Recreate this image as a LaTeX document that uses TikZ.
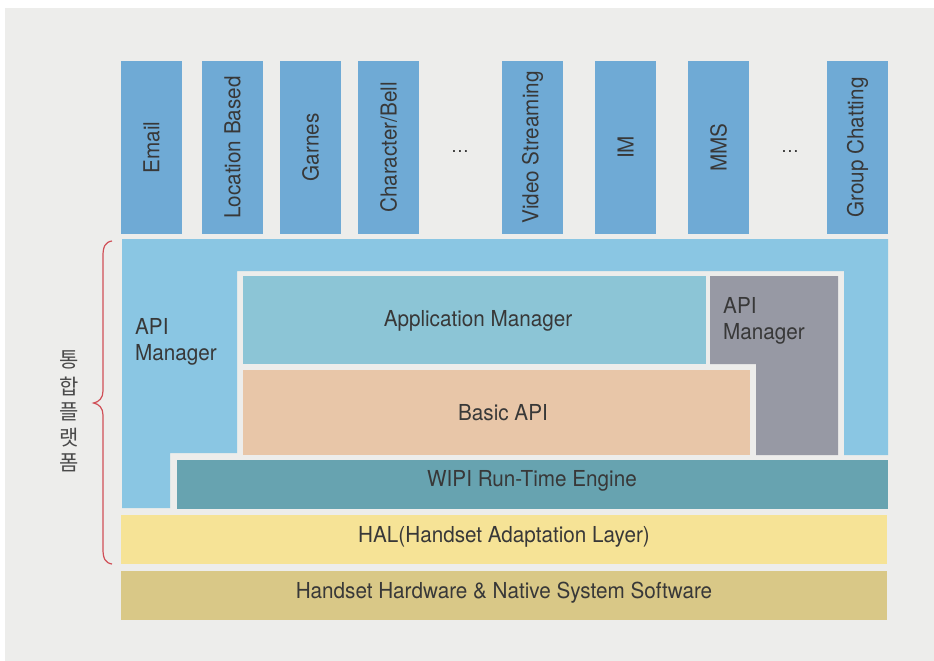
\documentclass[tikz,border=0pt]{standalone}
\usepackage{fontspec}
\setmainfont[FakeStretch=0.94]{TeX Gyre Heros}
\newfontfamily\kfont{Noto Sans CJK KR}
\definecolor{bg}{HTML}{EDEDEB}
\definecolor{appblue}{HTML}{6FAAD5}
\definecolor{lblue}{HTML}{8AC6E3}
\definecolor{amgr}{HTML}{8CC5D6}
\definecolor{basic}{HTML}{E8C6A8}
\definecolor{gapi}{HTML}{9799A4}
\definecolor{wipi}{HTML}{67A3B0}
\definecolor{hal}{HTML}{F6E396}
\definecolor{hw}{HTML}{D9C887}
\definecolor{txt}{HTML}{383838}
\definecolor{ktxt}{HTML}{4A4A4A}
\definecolor{bracered}{HTML}{D04F57}
\begin{document}
\begin{tikzpicture}[x=1pt,y=-1pt,
  lbl/.style={font=\fontsize{22}{26}\selectfont, text=txt, inner sep=0pt},
  vlbl/.style={lbl, rotate=90},
  klbl/.style={font=\kfont\fontsize{21}{24}\selectfont, text=ktxt, inner sep=0pt}]
\useasboundingbox (0,0) rectangle (934,661);
\fill[white] (0,0) rectangle (934,661);
\fill[bg] (5,8) rectangle (934,661);

% top application boxes
\foreach \x/\t/\n in {121/Email/email, 202/Location Based/loc, 280/Garnes/games, 358/Character\slash Bell/bell, 502/Video Streaming/video, 595/IM/im, 688/MMS/mms, 827/Group Chatting/group}{
  \fill[appblue] (\x,61) rectangle ++(61,173);
  \node[vlbl] (\n) at (\x+30.5,147.5) {\t};
}
\node[font=\fontsize{19}{22}\selectfont, text=txt, inner sep=0pt, anchor=base] (dots1) at (460,152) {\dots};
\node[font=\fontsize{19}{22}\selectfont, text=txt, inner sep=0pt, anchor=base] (dots2) at (790,152) {\dots};

% large API manager (light blue frame)
\fill[lblue] (122,239) -- (888,239) -- (888,455) -- (844,455) -- (844,271) -- (237,271)
  -- (237,453) -- (170,453) -- (170,508) -- (122,508) -- cycle;
\node[lbl, align=left, anchor=north west] (apiL) at (135,318) {API\\Manager};

% application manager
\fill[amgr] (243,276) rectangle (706,364);
\node[lbl] (appmgr) at (478,321) {Application Manager};

% right API manager (grey L-shape)
\fill[gapi] (710,276) -- (838,276) -- (838,455) -- (756,455) -- (756,364) -- (710,364) -- cycle;
\node[lbl, align=left, anchor=north west] (apiR) at (723,297) {API\\Manager};

% basic API
\fill[basic] (243,370) rectangle (750,455);
\node[lbl] (basicapi) at (503,413) {Basic API};

% WIPI run-time engine
\fill[wipi] (177,460) rectangle (888,509);
\node[lbl] (wipi) at (532,481) {WIPI Run-Time Engine};

% HAL
\fill[hal] (121,515) rectangle (887,564);
\node[lbl] (hal) at (504,537) {HAL(Handset Adaptation Layer)};

% hardware
\fill[hw] (121,571) rectangle (887,620);
\node[lbl] (hw) at (504,593) {Handset Hardware \& Native System Software};

% brace
\draw[bracered, line width=1.2pt]
  (112,241) .. controls (105,242) and (103,247) .. (103,256) -- (103,391)
  .. controls (103,398) and (99,402) .. (93.5,403)
  .. controls (99,404) and (103,408) .. (103,415) -- (103,549)
  .. controls (103,558) and (105,563) .. (112,564);

% Korean label
\foreach \c/\y/\n in {통/360/k1, 합/386/k2, 플/412/k3, 랫/438/k4, 폼/463/k5}{
  \node[klbl] (\n) at (69,\y) {\c};
}
\end{tikzpicture}
\end{document}
